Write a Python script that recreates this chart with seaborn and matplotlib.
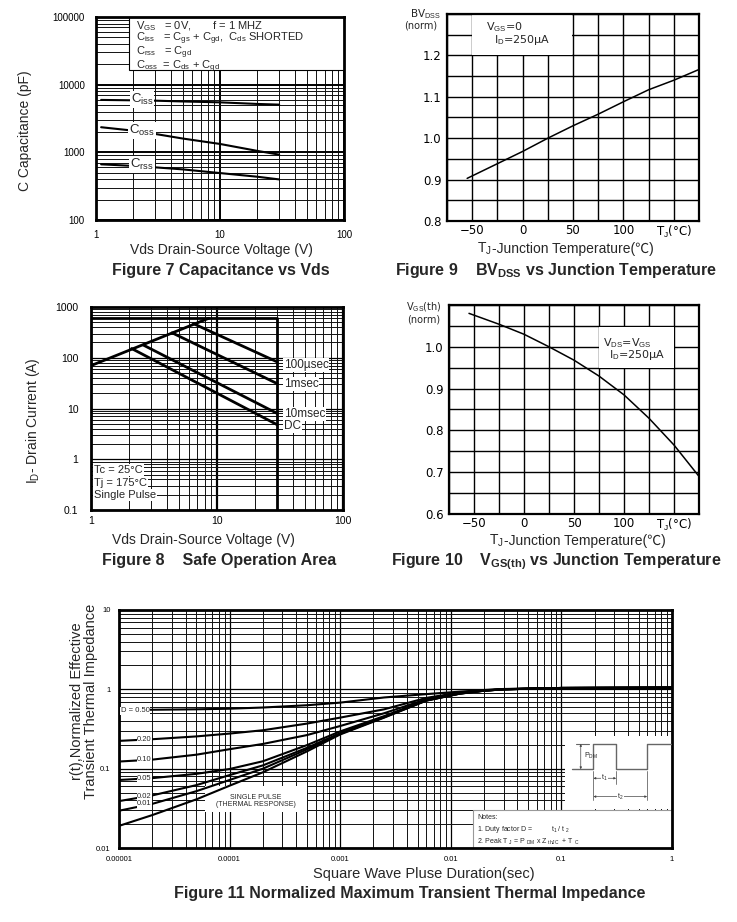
import numpy as np
import pandas as pd
import matplotlib
matplotlib.use("Agg")
import matplotlib.pyplot as plt
import seaborn as sns
from matplotlib.ticker import FixedLocator, FixedFormatter, LogLocator, NullFormatter, MultipleLocator
from matplotlib.patches import Rectangle

# --- 1. Data ---

# Figure 7: capacitance (pF) vs Vds (V)
CAP_VDS = [1.1, 2, 3, 5, 10, 20, 30]
CISS = [5950, 5870, 5800, 5650, 5480, 5190, 5070]
COSS = [2350, 2090, 1870, 1600, 1330, 1050, 925]
CRSS = [665, 630, 600, 560, 494, 436, 398]

# Figure 8: safe operating area
SOA_EDGE_V = [1, 30, 30]
SOA_EDGE_I = [600, 600, 0.1]
RDS_V = [1, 8.6]
RDS_I = [70, 600]
PULSE_NAMES = ["100µsec", "1msec", "10msec", "DC"]
PULSE_V = [[6.5, 30], [4.4, 30], [2.6, 30], [2.1, 30]]
PULSE_I = [[470, 83], [310, 31], [178, 8], [152, 4.8]]

# Figure 9: BVdss (norm) vs Tj
TJ_BV = [-55, 0, 25, 50, 75, 100, 125, 150, 175]
BVDSS = [0.903, 0.968, 1.0, 1.03, 1.058, 1.088, 1.117, 1.14, 1.166]

# Figure 10: Vgs(th) (norm) vs Tj
TJ_VTH = [-55, -25, 0, 25, 50, 75, 100, 125, 150, 175]
VGSTH = [1.080, 1.054, 1.030, 1.0, 0.968, 0.93, 0.885, 0.829, 0.765, 0.69]

# Figure 11: transient thermal impedance
PULSE_T = [1e-5, 2e-5, 5e-5, 1e-4, 2e-4, 5e-4, 1e-3, 2.5e-3, 6e-3, 1.2e-2, 2e-2, 3e-2, 0.1, 1]
ZTH_D50 = [0.55, 0.553, 0.56, 0.57, 0.59, 0.63, 0.68, 0.79, 0.87, 0.935, 0.98, 1.01, 1.04, 1.05]
ZTH_D20 = [0.224, 0.235, 0.255, 0.277, 0.305, 0.37, 0.44, 0.56, 0.78, 0.91, 0.972, 1.005, 1.04, 1.05]
ZTH_D10 = [0.123, 0.13, 0.15, 0.176, 0.205, 0.265, 0.345, 0.5, 0.75, 0.895, 0.967, 1.0, 1.04, 1.05]
ZTH_D05 = [0.072, 0.076, 0.086, 0.099, 0.124, 0.198, 0.295, 0.46, 0.73, 0.887, 0.964, 1.0, 1.04, 1.05]
ZTH_D02 = [0.039, 0.046, 0.062, 0.083, 0.11, 0.183, 0.28, 0.45, 0.725, 0.884, 0.962, 1.0, 1.04, 1.05]
ZTH_D01 = [0.0295, 0.036, 0.052, 0.072, 0.1, 0.175, 0.275, 0.445, 0.722, 0.882, 0.961, 1.0, 1.04, 1.05]
ZTH_SINGLE = [0.019, 0.026, 0.041, 0.061, 0.09, 0.165, 0.27, 0.44, 0.72, 0.88, 0.96, 1.0, 1.04, 1.05]
DUTY_LABELS = ["D = 0.50", "0.20", "0.10", "0.05", "0.02", "0.01"]

# --- 2. Style ---
sns.set_theme(style="white")
plt.rcParams["font.family"] = ["Liberation Sans", "DejaVu Sans"]
plt.rcParams.update({
    "mathtext.fontset": "custom",
    "mathtext.rm": "Liberation Sans",
    "mathtext.it": "Liberation Sans:italic",
    "mathtext.bf": "Liberation Sans:bold",
})

W, H = 737, 922
fig = plt.figure(figsize=(W / 100, H / 100), dpi=100)


def px_axes(l, t, r, b):
    return fig.add_axes([l / W, 1 - b / H, (r - l) / W, (b - t) / H])


def ftext(x, y, s, **kw):
    kw.setdefault("ha", "center")
    kw.setdefault("va", "center")
    fig.text(x / W, 1 - y / H, s, **kw)


def frame(ax, lw):
    for sp in ax.spines.values():
        sp.set_visible(True)
        sp.set_color("black")
        sp.set_linewidth(lw)
    ax.set_axisbelow(True)


def log_grid(ax, xlim, ylim, xt, xl, yt, yl, fs, major_lw=1.4, minor_lw=0.7):
    ax.set_xscale("log")
    ax.set_yscale("log")
    ax.set_xlim(*xlim)
    ax.set_ylim(*ylim)
    ax.xaxis.set_major_locator(FixedLocator(xt))
    ax.xaxis.set_major_formatter(FixedFormatter(xl))
    ax.yaxis.set_major_locator(FixedLocator(yt))
    ax.yaxis.set_major_formatter(FixedFormatter(yl))
    for axis in (ax.xaxis, ax.yaxis):
        axis.set_minor_locator(LogLocator(base=10, subs=np.arange(2, 10) * 1.0, numticks=100))
        axis.set_minor_formatter(NullFormatter())
    ax.tick_params(which="both", length=0, labelsize=fs, colors="black")
    ax.grid(True, which="minor", color="#111111", lw=minor_lw)
    ax.grid(True, which="major", color="black", lw=major_lw)


def lin_grid(ax, ylim, yt, fs):
    ax.set_xlim(-75, 175)
    ax.set_ylim(*ylim)
    ax.xaxis.set_major_locator(FixedLocator([-50, 0, 50, 100, 150]))
    ax.xaxis.set_major_formatter(FixedFormatter(["\u221250", "0", "50", "100", "T$_{\\rm J}$(\u00b0C)"]))
    ax.xaxis.set_minor_locator(MultipleLocator(25))
    ax.yaxis.set_major_locator(FixedLocator(yt))
    ax.yaxis.set_major_formatter(FixedFormatter([f"{v:.1f}" for v in yt]))
    ax.yaxis.set_minor_locator(MultipleLocator(0.05))
    ax.tick_params(which="both", length=0, labelsize=fs, colors="black")
    for lab in ax.get_xticklabels() + ax.get_yticklabels():
        lab.set_family("DejaVu Sans")
    ax.grid(True, which="both", color="black", lw=1.0)


def tj_label(split_x, baseline_y):
    # subscript part through mathtext, the rest as plain text so that the
    # degree-Celsius sign can fall back to a font that has it
    ftext(split_x, baseline_y, "T$_{\\rm J}$", ha="right", va="baseline", fontsize=10)
    ftext(split_x, baseline_y, "-Junction Temperature(\u2103)", ha="left", va="baseline", fontsize=10,
          family=["Liberation Sans", "Noto Sans CJK SC", "DejaVu Sans"])


def curve(ax, x, y, lw):
    sns.lineplot(x=x, y=y, ax=ax, color="black", lw=lw, estimator=None, sort=False)


white_bb = dict(facecolor="white", edgecolor="none", pad=0.6)

# --- 3. Figure 7: Capacitance vs Vds ---
ax7 = px_axes(96, 17, 344, 220)
log_grid(ax7, (1, 100), (100, 100000), [1, 10, 100], ["1", "10", "100"],
         [100, 1000, 10000, 100000], ["100", "1000", "10000", "100000"], 7)
ax7.tick_params(axis="x", pad=7)
ax7.tick_params(axis="y", pad=8)
frame(ax7, 2.0)
for series in (CISS, COSS, CRSS):
    curve(ax7, CAP_VDS, series, 1.5)
ax7.add_patch(Rectangle((0.134, 0.737), 0.87, 0.28, transform=ax7.transAxes,
                        facecolor="white", edgecolor="black", lw=0.8, zorder=1.5))
box7 = "\n".join([r"V$_{\rm GS}$   = 0V,       f = 1 MHZ",
                  r"C$_{\rm iss}$   = C$_{\rm gs}$ + C$_{\rm gd}$,  C$_{\rm ds}$ SHORTED",
                  r"C$_{\rm rss}$   = C$_{\rm gd}$",
                  r"C$_{\rm oss}$  = C$_{\rm ds}$ + C$_{\rm gd}$"])
ax7.text(0.163, 0.99, box7, transform=ax7.transAxes, fontsize=8.0, linespacing=0.78,
         va="top", ha="left", zorder=3)
for s, yy in zip([r"C$_{\rm iss}$", r"C$_{\rm oss}$", r"C$_{\rm rss}$"], [0.595, 0.44, 0.275]):
    ax7.text(0.185, yy, s, transform=ax7.transAxes, fontsize=9.5, ha="center", va="center",
             bbox=white_bb, zorder=3)
ax7.set_xlabel("")
ax7.set_ylabel("")
ftext(221, 250, "Vds Drain-Source Voltage (V)", fontsize=10)
ftext(221, 270, "Figure 7 Capacitance vs Vds", fontsize=11.5, fontweight="bold")
ftext(25, 131, "C Capacitance (pF)", fontsize=10, rotation=90)

# --- 4. Figure 9: BVdss vs Tj ---
ax9 = px_axes(447, 14, 699, 221)
lin_grid(ax9, (0.8, 1.3), [0.8, 0.9, 1.0, 1.1, 1.2], 8.5)
ax9.tick_params(axis="x", pad=2)
ax9.tick_params(axis="y", pad=4)
frame(ax9, 1.6)
curve(ax9, TJ_BV, BVDSS, 1.1)
ax9.add_patch(Rectangle((0.1, 0.802), 0.396, 0.2, transform=ax9.transAxes,
                        facecolor="white", edgecolor="none", zorder=1.5))
ax9.text(0.155, 0.935, r"V$_{\rm GS}$=0", transform=ax9.transAxes, fontsize=8, family="DejaVu Sans",
         ha="left", va="center", zorder=3)
ax9.text(0.185, 0.875, "I$_{\\rm D}$=250\u03bcA", transform=ax9.transAxes, fontsize=8, family="DejaVu Sans",
         ha="left", va="center", zorder=3)
ax9.set_xlabel("")
ax9.set_ylabel("")
ftext(425, 14, r"BV$_{\rm DSS}$", fontsize=7.5, family="DejaVu Sans")
ftext(421, 26, "(norm)", fontsize=7, family="DejaVu Sans")
tj_label(492, 253)
ftext(556, 270, r"Figure 9    BV$_{\mathbf{DSS}}$ vs Junction Temperature", fontsize=11.5, fontweight="bold")

# --- 5. Figure 8: Safe operation area ---
ax8 = px_axes(91, 307, 343, 510)
log_grid(ax8, (1, 100), (0.1, 1000), [1, 10, 100], ["1", "10", "100"],
         [0.1, 1, 10, 100, 1000], ["0.1", "1", "10", "100", "1000"], 7.5, major_lw=0.9)
ax8.grid(True, which="major", axis="x", color="black", lw=1.6)
ax8.tick_params(axis="y", which="major", direction="in", length=9, width=2, pad=9)
ax8.tick_params(axis="x", pad=4)
frame(ax8, 2.0)
curve(ax8, SOA_EDGE_V, SOA_EDGE_I, 2.0)
curve(ax8, RDS_V, RDS_I, 2.0)
for v, i in zip(PULSE_V, PULSE_I):
    curve(ax8, v, i, 2.0)
for name, yy in zip(PULSE_NAMES, [0.714, 0.621, 0.473, 0.414]):
    ax8.text(0.765, yy, name, transform=ax8.transAxes, fontsize=8.5, ha="left", va="center",
             bbox=white_bb, zorder=3)
for s, yy in zip(["Tc = 25\u00b0C", "Tj = 175\u00b0C", "Single Pulse"], [0.197, 0.134, 0.074]):
    ax8.text(0.012, yy, s, transform=ax8.transAxes, fontsize=8, ha="left", va="center",
             bbox=white_bb, zorder=3)
ax8.set_xlabel("")
ax8.set_ylabel("")
ftext(203, 540, "Vds Drain-Source Voltage (V)", fontsize=10)
ftext(219, 561, "Figure 8    Safe Operation Area", fontsize=11.5, fontweight="bold")
ftext(33, 421, "I$_{\\rm D}$- Drain Current (A)", fontsize=10, rotation=90)

# --- 6. Figure 10: Vgs(th) vs Tj ---
ax10 = px_axes(449, 305, 699, 514)
lin_grid(ax10, (0.6, 1.1), [0.6, 0.7, 0.8, 0.9, 1.0], 8.5)
ax10.tick_params(axis="x", pad=2)
ax10.tick_params(axis="y", pad=4)
frame(ax10, 1.6)
curve(ax10, TJ_VTH, VGSTH, 1.1)
ax10.add_patch(Rectangle((0.6, 0.699), 0.3, 0.196, transform=ax10.transAxes,
                         facecolor="white", edgecolor="none", zorder=1.5))
ax10.text(0.615, 0.82, "V$_{\\rm DS}$=V$_{\\rm GS}$", transform=ax10.transAxes, fontsize=8,
          family="DejaVu Sans", ha="left", va="center", zorder=3)
ax10.text(0.64, 0.76, "I$_{\\rm D}$=250\u03bcA", transform=ax10.transAxes, fontsize=8,
          family="DejaVu Sans", ha="left", va="center", zorder=3)
ax10.set_xlabel("")
ax10.set_ylabel("")
ftext(424, 307, "V$_{\\rm GS}$(th)", fontsize=7, family="DejaVu Sans")
ftext(424, 319, "(norm)", fontsize=7, family="DejaVu Sans")
tj_label(504, 545)
ftext(556, 562, r"Figure 10    V$_{\mathbf{GS(th)}}$ vs Junction Temperature", fontsize=11.5,
      fontweight="bold")

# --- 7. Figure 11: transient thermal impedance ---
ax11 = px_axes(119, 610, 672, 848)
log_grid(ax11, (1e-5, 1), (0.01, 10), [1e-5, 1e-4, 1e-3, 1e-2, 1e-1, 1],
         ["0.00001", "0.0001", "0.001", "0.01", "0.1", "1"],
         [0.01, 0.1, 1, 10], ["0.01", "0.1", "1", "10"], 5.5, major_lw=0.9, minor_lw=0.7)
ax11.tick_params(axis="x", pad=6)
ax11.tick_params(axis="y", pad=6)
frame(ax11, 2.0)
zth_df = pd.DataFrame({
    "t": PULSE_T * 7,
    "r": ZTH_D50 + ZTH_D20 + ZTH_D10 + ZTH_D05 + ZTH_D02 + ZTH_D01 + ZTH_SINGLE,
    "duty": np.repeat(["0.50", "0.20", "0.10", "0.05", "0.02", "0.01", "single"], len(PULSE_T)),
})
sns.lineplot(data=zth_df, x="t", y="r", hue="duty", palette=["black"] * 7, lw=1.5,
             estimator=None, legend=False, ax=ax11)
for s, yy in zip(DUTY_LABELS, [0.576, 0.454, 0.37, 0.294, 0.218, 0.185]):
    xx = 0.003 if s.startswith("D") else 0.033
    ax11.text(xx, yy, s, transform=ax11.transAxes, fontsize=5.5, ha="left", va="center",
              bbox=dict(facecolor="white", edgecolor="none", pad=0.3), zorder=3)
ax11.add_patch(Rectangle((0.156, 0.151), 0.184, 0.11, transform=ax11.transAxes,
                         facecolor="white", edgecolor="none", zorder=1.5))
ax11.text(0.248, 0.214, "SINGLE PULSE", transform=ax11.transAxes, fontsize=5, ha="center", va="center", zorder=3)
ax11.text(0.248, 0.181, "(THERMAL RESPONSE)", transform=ax11.transAxes, fontsize=5, ha="center",
          va="center", zorder=3)
# pulse sketch and notes
ax11.add_patch(Rectangle((0.806, 0.165), 0.2, 0.305, transform=ax11.transAxes,
                         facecolor="white", edgecolor="none", zorder=1.5))
ax11.add_patch(Rectangle((0.64, 0.0), 0.37, 0.16, transform=ax11.transAxes,
                         facecolor="white", edgecolor="#999999", lw=0.8, zorder=1.6))
grey = "#666666"
ax11.plot([0.819, 0.858, 0.858, 0.899, 0.899, 0.955, 0.955, 0.998],
          [0.331, 0.331, 0.437, 0.437, 0.331, 0.331, 0.437, 0.437],
          transform=ax11.transAxes, color=grey, lw=1.0, zorder=3)
ax11.plot([0.826, 0.85], [0.437, 0.437], transform=ax11.transAxes, color=grey, lw=0.8, zorder=3)
for xx, y0 in [(0.858, 0.2), (0.899, 0.27), (0.955, 0.2)]:
    ax11.plot([xx, xx], [0.325, y0], transform=ax11.transAxes, color=grey, lw=0.6, zorder=3)
arrow = dict(arrowstyle="<|-|>", lw=0.5, color="#444444", shrinkA=0, shrinkB=0, mutation_scale=3)
ax11.annotate("", xy=(0.835, 0.437), xytext=(0.835, 0.331), xycoords="axes fraction", arrowprops=arrow, zorder=3)
ax11.annotate("", xy=(0.858, 0.293), xytext=(0.899, 0.293), xycoords="axes fraction", arrowprops=arrow, zorder=3)
ax11.annotate("", xy=(0.858, 0.216), xytext=(0.955, 0.216), xycoords="axes fraction", arrowprops=arrow, zorder=3)
ax11.text(0.84, 0.387, "P$_{\\rm DM}$", transform=ax11.transAxes, fontsize=5, ha="left", va="center", zorder=3)
ax11.text(0.878, 0.293, "t$_1$", transform=ax11.transAxes, fontsize=5, ha="center", va="center",
          bbox=dict(facecolor="white", edgecolor="none", pad=0.2), zorder=4)
ax11.text(0.906, 0.216, "t$_2$", transform=ax11.transAxes, fontsize=5, ha="center", va="center",
          bbox=dict(facecolor="white", edgecolor="none", pad=0.2), zorder=4)
notes = ["Notes:",
         "1. Duty factor D =          t$_1$ / t $_2$",
         "2. Peak T $_{\\rm J}$ = P $_{\\rm DM}$ x Z $_{\\rm thJC}$  + T $_{\\rm C}$"]
for i, s in enumerate(notes):
    ax11.text(0.648, 0.13 - i * 0.053, s, transform=ax11.transAxes, fontsize=5, ha="left",
              va="center", zorder=3)
ax11.set_xlabel("")
ax11.set_ylabel("")
ftext(84, 701, "r(t),Normalized Effective\nTransient Thermal Impedance", fontsize=10.5,
      rotation=90, linespacing=1.05)
ftext(424, 874, "Square Wave Pluse Duration(sec)", fontsize=10.5)
ftext(410, 893, "Figure 11 Normalized Maximum Transient Thermal Impedance", fontsize=11.5,
      fontweight="bold")

fig.savefig("out.png", dpi=100, facecolor="white")
